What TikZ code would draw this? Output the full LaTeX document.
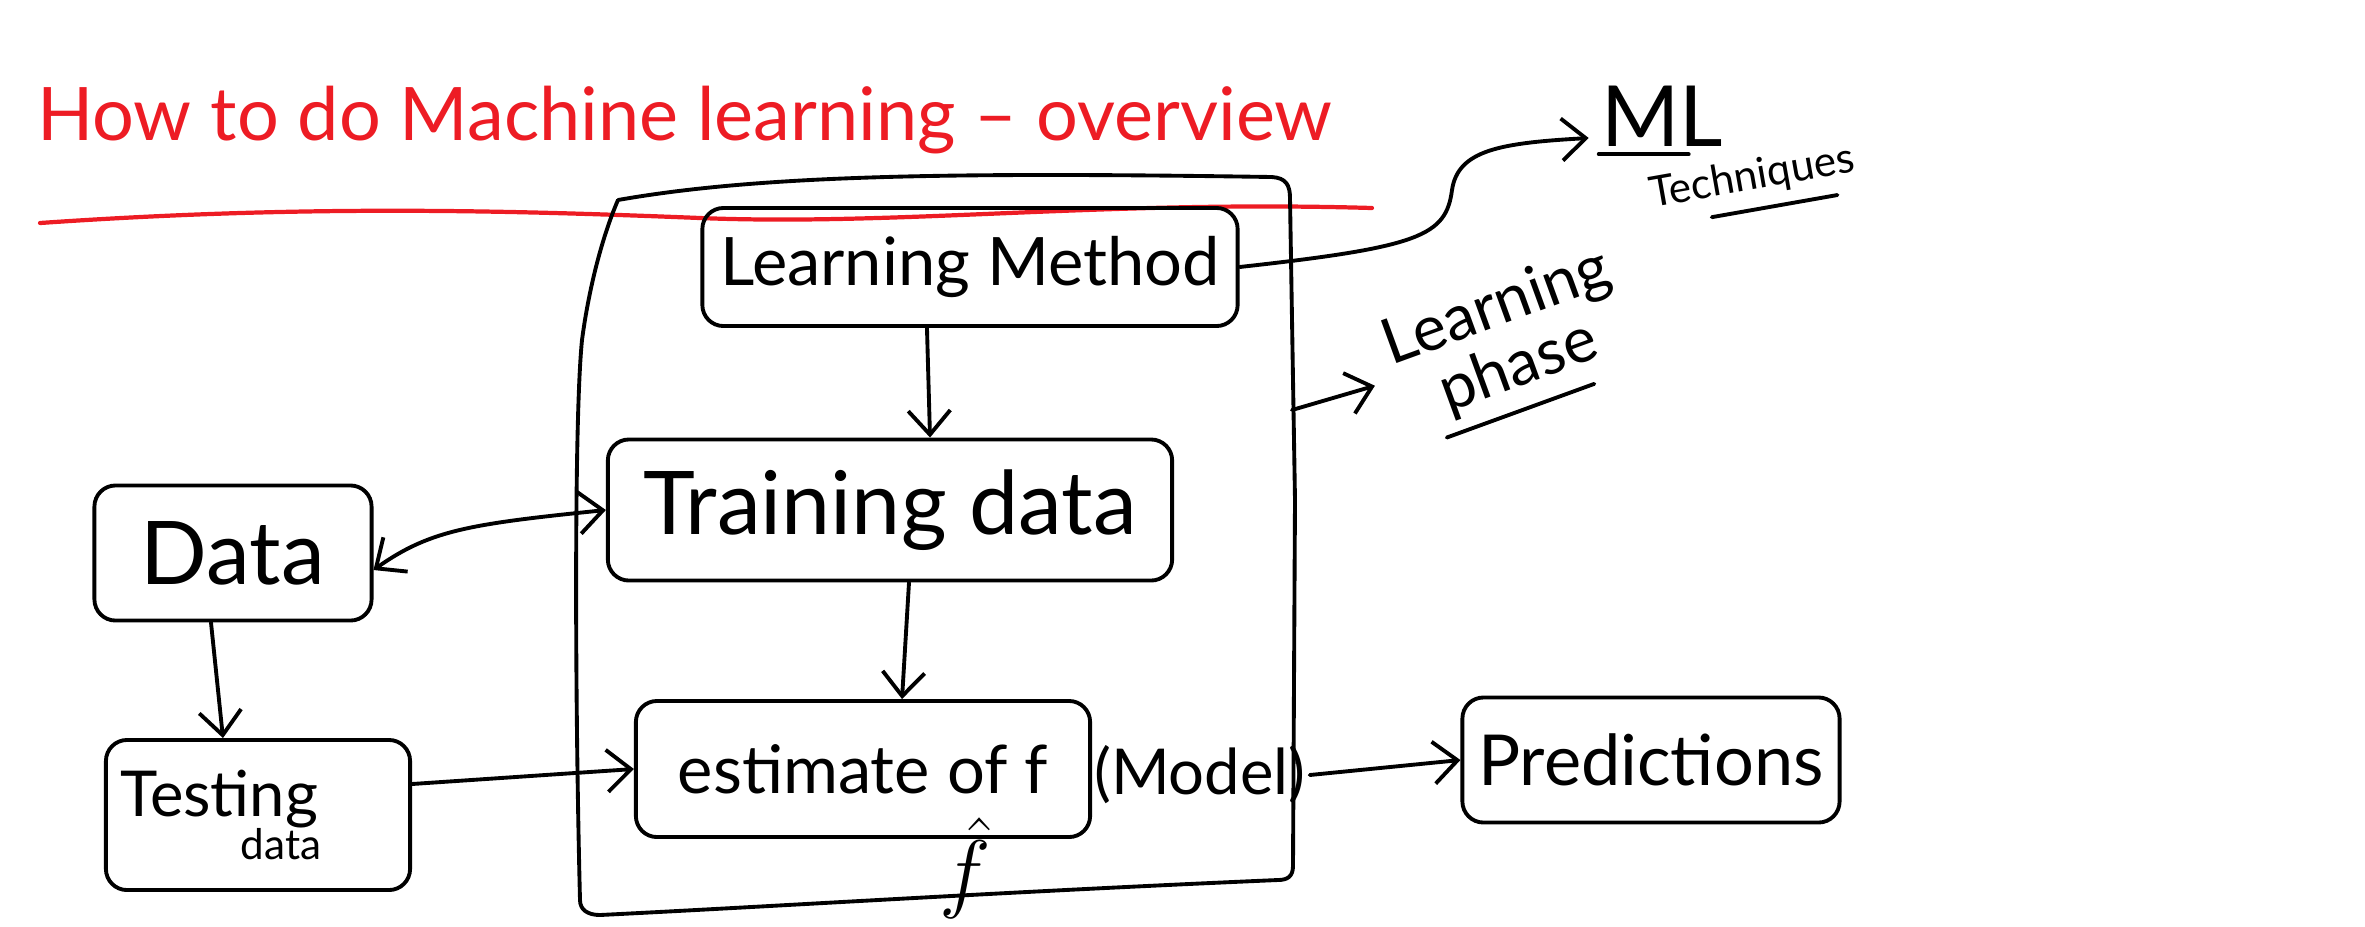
\documentclass[tikz,border=0pt]{standalone}
\usepackage{fontspec}
\setmainfont{Lato}
\usetikzlibrary{arrows.meta,calc}
\definecolor{inkred}{RGB}{237,28,36}
\tikzset{
  barb/.tip={Straight Barb[length=2.4mm,width=4.2mm]},
  stroke/.style={line width=1.1pt, line cap=round, line join=round},
  box/.style={stroke, draw, rounded corners=6pt, inner sep=0pt},
  link/.style={stroke, -barb},
  hand/.style={font=\fontsize{#1}{#1}\selectfont},
}
\begin{document}
\begin{tikzpicture}[x=0.01cm, y=-0.01cm]
	\useasboundingbox (0,0) rectangle (2365,926);
	\coordinate (FrameR) at (1292,410);
	
	% title
	\node[hand=21, text=inkred] (title) at (685,120) {How to do Machine learning -- overview};
	\draw [stroke, inkred, line width=1.2pt] (40,223) .. controls (300,205) and (500,210) .. (700,218) .. controls (900,226) and (1100,200) .. (1372,208);
	
	% learning phase frame
	\draw [stroke] (618,200) .. controls (760,175) and (950,172) .. (1272,177) .. controls (1286,178) and (1290,185) .. (1290,198) -- (1295,500) -- (1293,866) .. controls (1293,876) and (1288,880) .. (1278,880) .. controls (1000,892) and (800,905) .. (600,915) .. controls (588,915) and (580,910) .. (580,900) .. controls (575,700) and (574,420) .. (582,340) .. controls (590,280) and (605,230) .. (618,200);
	
	\node[box, minimum width=5.35cm, minimum height=1.18cm, hand=19] (lm) at (970,267) {Learning Method};
	\node[box, minimum width=5.64cm, minimum height=1.41cm, hand=25] (td) at (890,510) {Training data};
	\node[box, minimum width=4.54cm, minimum height=1.36cm, hand=19] (est) at (863,769) {estimate of f};
	\node[hand=18, anchor=west, inner sep=1pt] (model) at (1090,775) {(Model)};
	\node[hand=24] (fhat) at (965,868) {$\hat{f}$};
	
	\node[box, minimum width=2.77cm, minimum height=1.35cm, hand=25] (data) at (233,553) {Data};
	\node[box, minimum width=3.04cm, minimum height=1.5cm, text width=2.75cm, hand=18, align=left] (test) at (258,815) {Testing\\[-6pt]\hspace*{1.9em}{\fontsize{12}{12}\selectfont data}};
	\node[box, minimum width=3.77cm, minimum height=1.25cm, hand=20] (pred) at (1651,760) {Predictions};
	
	\node[hand=24] (ml) at (1662,116) {ML};
	\node[hand=12, rotate=10] (tech) at (1752,178) {Techniques};
	\node[hand=18, rotate=20, align=center] (phase) at (1508,338) {Learning\\phase};
	\draw [stroke] (ml.base west) ++(10,8) -- ++(90,0);
	\draw [stroke] ($(tech.south west)!0.3!(tech.south east)$) -- ($(tech.south west)!0.85!(tech.south east)$);
	\draw [stroke] ($(phase.south west)!0.15!(phase.south east)$) -- ($(phase.south west)!0.75!(phase.south east)$);
	
	% connectors
	\draw [link] (lm.east) .. controls (1420,247) and (1446,236) .. (1452,190) .. controls (1458,150) and (1500,143) .. ($(ml.west)+(0,22)$);
	\draw [link, shorten >=3pt] (FrameR) -- (phase.west);
	\draw [link] ([xshift=-0.43cm]lm.south) -- ([xshift=0.4cm]td.north);
	\draw [link] ([xshift=0.19cm]td.south) -- ([xshift=0.39cm]est.north);
	\draw [stroke, barb-barb] ($(data.east)+(0,17)$) .. controls (430,530) and (470,524) .. (td.west);
	\draw [link] ([xshift=-0.22cm]data.south) -- ([xshift=-0.35cm]test.north);
	\draw [link] ($(test.east)+(0,-31)$) -- (est.west);
	\draw [link] (model.east) -- (pred.west);
\end{tikzpicture}
\end{document}
